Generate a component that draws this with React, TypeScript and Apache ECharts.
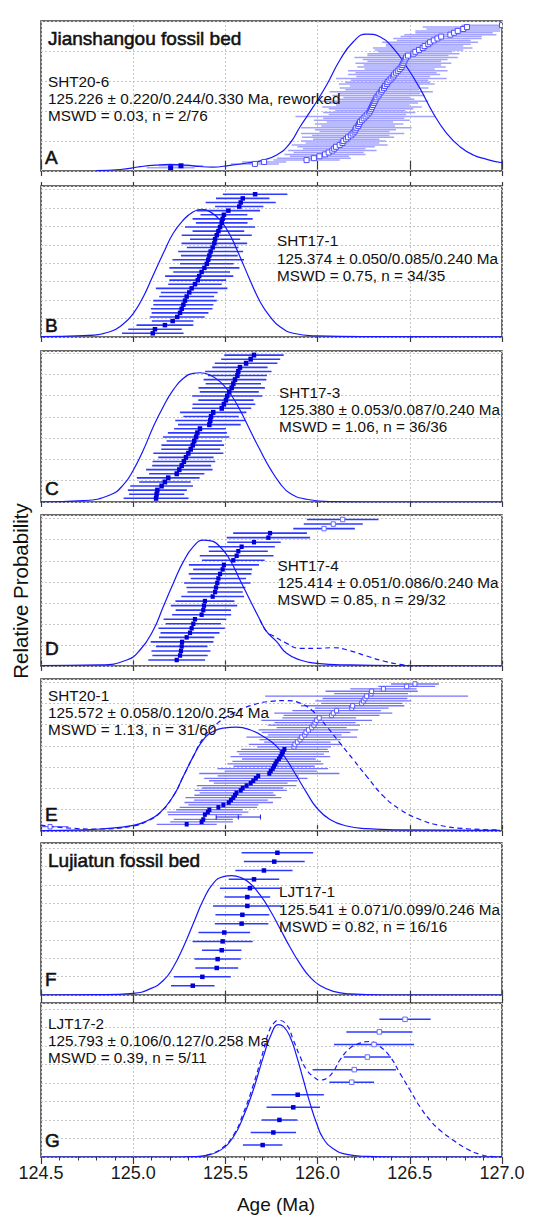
import { useEffect, useRef } from 'react';
import * as echarts from 'echarts';

const FONT = '"Liberation Sans", Arial, Helvetica, sans-serif';
const AGE_MIN = 124.5;
const AGE_MAX = 127.0;
const AGE_STEP = 0.5;
const AGE_TICK_LABELS = ['124.5', '125.0', '125.5', '126.0', '126.5', '127.0'];

// ---------------- Panel A : SHT20-6 ----------------
const ageA = [125.203, 125.259, 125.66, 125.71, 125.94, 125.98, 126.01, 126.04, 126.06, 126.08,
  126.09, 126.10, 126.12, 126.135, 126.14, 126.155, 126.165, 126.18, 126.19, 126.20,
  126.205, 126.21, 126.22, 126.225, 126.23, 126.24, 126.25, 126.26, 126.27, 126.28,
  126.285, 126.29, 126.295, 126.30, 126.305, 126.31, 126.315, 126.32, 126.33, 126.335,
  126.345, 126.35, 126.36, 126.365, 126.375, 126.38, 126.39, 126.40, 126.41, 126.415,
  126.425, 126.435, 126.445, 126.455, 126.46, 126.465, 126.47, 126.475, 126.48, 126.49,
  126.52, 126.53, 126.55, 126.57, 126.58, 126.60, 126.61, 126.63, 126.65, 126.67,
  126.72, 126.74, 126.76, 126.79, 126.81, 127.00];
const errA = [0.13, 0.12, 0.13, 0.12, 0.18, 0.2, 0.16, 0.22, 0.19, 0.24,
  0.17, 0.21, 0.26, 0.2, 0.23, 0.18, 0.25, 0.21, 0.28, 0.19,
  0.22, 0.3, 0.2, 0.24, 0.18, 0.26, 0.22, 0.38, 0.21, 0.25,
  0.19, 0.23, 0.27, 0.2, 0.24, 0.29, 0.21, 0.18, 0.25, 0.22,
  0.28, 0.2, 0.24, 0.19, 0.26, 0.23, 0.21, 0.3, 0.2, 0.25,
  0.22, 0.27, 0.19, 0.24, 0.21, 0.26, 0.2, 0.23, 0.28, 0.22,
  0.25, 0.2, 0.24, 0.27, 0.21, 0.23, 0.26, 0.2, 0.24, 0.22,
  0.25, 0.21, 0.23, 0.2, 0.24, 0.22];
const kindA = 'f'.repeat(2) + 'o'.repeat(74);
const curveA = [[124.8, 0.2], [124.93, 1.0], [125.04, 2.9], [125.12, 3.9], [125.2, 4.4], [125.29, 3.9],
  [125.36, 3.0], [125.43, 2.6], [125.525, 3.8], [125.633, 5.6], [125.69, 6.8], [125.778, 10.7],
  [125.85, 18.5], [125.905, 29.5], [125.977, 42.9], [126.049, 57.3], [126.121, 74], [126.194, 86.2],
  [126.266, 91.3], [126.338, 89.5], [126.411, 81.8], [126.483, 69.5], [126.555, 55.1], [126.627, 38.5],
  [126.7, 25.1], [126.772, 16.2], [126.844, 10.7], [126.917, 7.8], [127.0, 5.5]];
const textA = ['SHT20-6', '125.226 ± 0.220/0.244/0.330 Ma, reworked', 'MSWD = 0.03, n = 2/76'];

// ---------------- Panel B : SHT17-1 ----------------
const ageB = [125.106, 125.118, 125.172, 125.214, 125.239, 125.254, 125.263, 125.272, 125.281, 125.290,
  125.304, 125.317, 125.335, 125.350, 125.358, 125.371, 125.386, 125.399, 125.407, 125.413,
  125.420, 125.431, 125.440, 125.444, 125.453, 125.462, 125.471, 125.480, 125.485, 125.492,
  125.516, 125.575, 125.583, 125.594, 125.661];
const errB = [0.167, 0.145, 0.154, 0.113, 0.149, 0.154, 0.167, 0.163, 0.172, 0.149,
  0.154, 0.194, 0.145, 0.154, 0.185, 0.154, 0.19, 0.145, 0.194, 0.154,
  0.176, 0.14, 0.178, 0.136, 0.19, 0.14, 0.19, 0.14, 0.163, 0.127,
  0.172, 0.131, 0.19, 0.145, 0.175];
const kindB = 'f'.repeat(35);
const curveB = [[124.5, 0.2], [124.729, 0.9], [124.874, 3.5], [124.946, 8.6], [125.001, 15.7], [125.055, 26.7],
  [125.109, 41.1], [125.163, 55.4], [125.217, 68.7], [125.272, 77.5], [125.326, 83], [125.371, 84.6],
  [125.416, 83], [125.471, 77.5], [125.525, 67.5], [125.579, 53.2], [125.633, 37.8], [125.688, 23.4],
  [125.742, 13.5], [125.796, 6.8], [125.868, 2.5], [125.995, 0.7], [126.266, 0.2], [127.0, 0.1]];
const textB = ['SHT17-1', '125.374 ± 0.050/0.085/0.240 Ma', 'MSWD = 0.75, n = 34/35'];

// ---------------- Panel C : SHT17-3 ----------------
const ageC = [125.124, 125.127, 125.131, 125.154, 125.172, 125.190, 125.236, 125.250, 125.263, 125.275,
  125.286, 125.299, 125.312, 125.323, 125.331, 125.341, 125.348, 125.362, 125.413, 125.418,
  125.422, 125.434, 125.480, 125.492, 125.503, 125.510, 125.521, 125.534, 125.543, 125.552,
  125.565, 125.570, 125.579, 125.612, 125.637, 125.655];
const errC = [0.176, 0.15, 0.16, 0.17, 0.14, 0.17, 0.15, 0.18, 0.16, 0.17,
  0.15, 0.19, 0.16, 0.17, 0.15, 0.18, 0.16, 0.14, 0.17, 0.19,
  0.15, 0.18, 0.16, 0.17, 0.15, 0.19, 0.16, 0.18, 0.15, 0.17,
  0.16, 0.18, 0.15, 0.17, 0.16, 0.161];
const kindC = 'f'.repeat(36);
const curveC = [[124.5, 0], [124.729, 0.9], [124.874, 4.6], [124.946, 11.3], [125.001, 21.2], [125.055, 34.4],
  [125.109, 49.9], [125.163, 63.1], [125.217, 74.2], [125.272, 81.9], [125.326, 85.2], [125.362, 85.6],
  [125.416, 84.1], [125.471, 79.7], [125.525, 72], [125.579, 60.9], [125.633, 47.7], [125.688, 34.4],
  [125.742, 22.3], [125.796, 12.4], [125.85, 5.8], [125.94, 1.8], [126.085, 0.2], [126.266, 0], [127.0, 0]];
const textC = ['SHT17-3', '125.380 ± 0.053/0.087/0.240 Ma', 'MSWD = 1.06, n = 36/36'];

// ---------------- Panel D : SHT17-4 ----------------
const ageD = [125.236, 125.254, 125.259, 125.263, 125.265, 125.290, 125.308, 125.317, 125.326, 125.335,
  125.371, 125.380, 125.384, 125.389, 125.431, 125.444, 125.449, 125.456, 125.462, 125.471,
  125.485, 125.492, 125.543, 125.561, 125.570, 125.588, 125.655, 125.733, 125.742,
  126.035, 126.085, 126.136];
const errD = [0.154, 0.15, 0.16, 0.14, 0.17, 0.15, 0.16, 0.18, 0.15, 0.17,
  0.16, 0.15, 0.18, 0.16, 0.17, 0.15, 0.16, 0.18, 0.15, 0.17,
  0.16, 0.19, 0.17, 0.2, 0.16, 0.18, 0.145, 0.226, 0.2,
  0.167, 0.16, 0.194];
const kindD = 'f'.repeat(29) + 'o'.repeat(3);
const curveD = [[124.498, 0.2], [124.82, 0.7], [124.965, 4.0], [125.037, 10.6], [125.109, 23.8], [125.163, 39.3],
  [125.217, 54.7], [125.272, 69.1], [125.326, 79], [125.38, 83.4], [125.416, 83], [125.471, 79],
  [125.525, 70.2], [125.579, 57], [125.633, 43.7], [125.688, 30.5], [125.724, 22.7], [125.778, 16.1],
  [125.832, 8.4], [125.905, 4], [125.995, 1.8], [126.176, 0.7], [126.501, 0.2], [127.0, 0]];
const curveDAll = [[125.688, 30.5], [125.724, 22.7], [125.76, 20.0], [125.832, 15], [125.905, 11.7], [125.995, 11.7],
  [126.085, 12.1], [126.176, 10.1], [126.266, 6.6], [126.357, 3.3], [126.447, 1.1], [126.537, 0.2], [126.628, 0.2]];
const textD = ['SHT17-4', '125.414 ± 0.051/0.086/0.240 Ma', 'MSWD = 0.85, n = 29/32'];

// ---------------- Panel E : SHT20-1 ----------------
const ageE = [124.549,
  125.290, 125.371, 125.380, 125.570,
  125.389, 125.405, 125.413, 125.462, 125.489, 125.518, 125.530, 125.543, 125.552, 125.560,
  125.583, 125.594, 125.615, 125.637, 125.651, 125.665, 125.678, 125.738, 125.746, 125.757,
  125.764, 125.771, 125.778, 125.790, 125.798, 125.805, 125.812, 125.820,
  125.872, 125.877, 125.89, 125.905, 125.914, 125.93, 125.937, 125.950, 125.968, 125.98,
  125.986, 125.995, 126.009, 126.076, 126.085, 126.103, 126.185, 126.190, 126.239, 126.248,
  126.257, 126.266, 126.29, 126.293, 126.357, 126.483, 126.528];
const errE = [0.1,
  0.163, 0.17, 0.16, 0.12,
  0.2, 0.22, 0.18, 0.21, 0.19, 0.24, 0.2, 0.26, 0.22, 0.2,
  0.25, 0.22, 0.27, 0.2, 0.24, 0.28, 0.22, 0.38, 0.25, 0.3,
  0.22, 0.26, 0.24, 0.2, 0.27, 0.23, 0.25, 0.235,
  0.2, 0.25, 0.18, 0.22, 0.3, 0.2, 0.24, 0.27, 0.19, 0.25,
  0.22, 0.3, 0.2, 0.26, 0.32, 0.24, 0.2, 0.28, 0.22, 0.26,
  0.23, 0.55, 0.2, 0.25, 0.18, 0.154, 0.13];
const kindE = 'o' + 'fff' + 't' + 'f'.repeat(28) + 'o'.repeat(27);
const curveE = [[124.5, 0.3], [124.729, 0.7], [124.82, 1.3], [125.001, 3.7], [125.073, 6.6], [125.145, 12],
  [125.217, 22.9], [125.272, 36], [125.326, 49.1], [125.38, 60], [125.434, 65.5], [125.489, 67.7],
  [125.561, 68.3], [125.633, 66.6], [125.706, 62.2], [125.778, 55.7], [125.832, 46.9], [125.887, 36],
  [125.941, 25.1], [125.995, 15.3], [126.067, 7.6], [126.158, 3.3], [126.266, 1.5], [126.447, 0.7], [126.989, 0.4]];
const curveEAll = [[124.498, 3.9], [124.639, 2], [124.82, 1.3], [125.001, 3.3], [125.073, 6.3], [125.145, 12],
  [125.217, 22.9], [125.272, 36], [125.326, 49.1], [125.38, 61.1], [125.453, 70.5], [125.543, 77.5],
  [125.651, 83], [125.76, 85.4], [125.832, 85.8], [125.905, 84.1], [125.977, 78.6], [126.049, 68.8],
  [126.121, 57.9], [126.194, 46.9], [126.266, 36], [126.357, 22.9], [126.447, 14.2], [126.555, 7.6],
  [126.664, 3.7], [126.808, 1.5], [126.989, 0.7]];
const textE = ['SHT20-1', '125.572 ± 0.058/0.120/0.254 Ma', 'MSWD = 1.13, n = 31/60'];

// ---------------- Panel F : LJT17-1 ----------------
const ageF = [125.323, 125.375, 125.453, 125.458, 125.480, 125.485, 125.494, 125.588, 125.592, 125.619,
  125.619, 125.633, 125.655, 125.709, 125.765, 125.782];
const errF = [0.118, 0.154, 0.116, 0.126, 0.107, 0.163, 0.14, 0.145, 0.146, 0.186,
  0.124, 0.163, 0.137, 0.155, 0.165, 0.194];
const kindF = 'f'.repeat(16);
const curveF = [[124.5, 0], [124.82, 0.2], [125.001, 1.1], [125.091, 4], [125.163, 9.5], [125.217, 18.3],
  [125.272, 31.6], [125.326, 47], [125.38, 62.5], [125.434, 73.5], [125.489, 77.9], [125.534, 78.6],
  [125.579, 77.5], [125.633, 73.5], [125.688, 65.8], [125.742, 55.8], [125.796, 43.7], [125.85, 31.6],
  [125.905, 20.5], [125.959, 11.7], [126.013, 6.2], [126.085, 2.4], [126.176, 0.7], [126.357, 0], [127.0, 0]];
const textF = ['LJT17-1', '125.541 ± 0.071/0.099/0.246 Ma', 'MSWD = 0.82, n = 16/16'];

// ---------------- Panel G : LJT17-2 ----------------
const ageG = [125.702, 125.760, 125.793, 125.868, 125.892, 126.185, 126.199, 126.270, 126.306, 126.335, 126.474];
const errG = [0.107, 0.123, 0.097, 0.145, 0.142, 0.121, 0.226, 0.128, 0.217, 0.179, 0.139];
const kindG = 'f'.repeat(5) + 'o'.repeat(6);
const curveG = [[124.5, 0], [125.25, 0], [125.326, 0.2], [125.398, 1.1], [125.471, 4.3], [125.543, 13], [125.597, 26.1],
  [125.651, 43.5], [125.706, 65.2], [125.751, 80.4], [125.787, 85.9], [125.814, 84.8], [125.85, 78.3],
  [125.887, 65.2], [125.923, 50], [125.959, 34.8], [125.995, 21.7], [126.031, 12], [126.085, 5.4],
  [126.158, 1.7], [126.266, 0.4], [126.447, 0], [127.0, 0]];
const curveGAll = [[125.398, 1.3], [125.471, 4.8], [125.543, 14.1], [125.597, 28.3], [125.651, 46.7], [125.697, 65.2],
  [125.733, 80.4], [125.76, 86.5], [125.787, 88.7], [125.832, 85.9], [125.868, 76.1], [125.905, 65.2],
  [125.941, 56.5], [125.977, 52.2], [126.013, 50], [126.049, 51.1], [126.085, 55.4], [126.121, 63],
  [126.176, 70.7], [126.23, 73.9], [126.284, 75], [126.338, 71.7], [126.393, 65.2], [126.447, 54.3],
  [126.501, 43.5], [126.555, 32.6], [126.61, 23.9], [126.664, 17.4], [126.736, 10.9], [126.808, 5.4],
  [126.881, 1.7], [126.953, 0.2], [127.0, 0]];
const textG = ['LJT17-2', '125.793 ± 0.106/0.127/0.258 Ma', 'MSWD = 0.39, n = 5/11'];

const TITLE_JSG = 'Jianshangou fossil bed';
const TITLE_LJT = 'Lujiatun fossil bed';
const Y_TITLE = 'Relative Probability';
const X_TITLE = 'Age (Ma)';

const CURVE_COLOR = '#1616ff';
const MARK_COLOR = '#0000d6';

const PANELS = [
  { letter: 'A', top: 21, bottom: 171, topTick: 9, gridStep: 20, rank: [-0.74, 78.2], ages: ageA, errs: errA, kinds: kindA,
    curve: curveA, dashed: null, text: textA, title: TITLE_JSG, titleY: 38.5, statsX: 48, statsY: 81, letterY: 157,
    barColor: '#a3a3ff', barWidth: 1.5, mkW: 5, mkH: 5, openStroke: '#4c4cff' },
  { letter: 'B', top: 186, bottom: 337, topTick: 4, gridStep: 12.2, rank: [0.1, 37.03], ages: ageB, errs: errB, kinds: kindB,
    curve: curveB, dashed: null, text: textB, title: null, titleY: 0, statsX: 277, statsY: 240.7, letterY: 325.5,
    barColor: '#2e3bff', barWidth: 1.6, mkW: 4.5, mkH: 4.5, openStroke: '#4c4cff' },
  { letter: 'C', top: 351, bottom: 502, topTick: 0, gridStep: 14.1, rank: [0.1, 37], ages: ageC, errs: errC, kinds: kindC,
    curve: curveC, dashed: null, text: textC, title: null, titleY: 0, statsX: 279, statsY: 392.3, letterY: 488,
    barColor: '#2e3bff', barWidth: 1.6, mkW: 4.5, mkH: 5, openStroke: '#4c4cff' },
  { letter: 'D', top: 515, bottom: 666, topTick: 4, gridStep: 13.94, rank: [-0.32, 33], ages: ageD, errs: errD, kinds: kindD,
    curve: curveD, dashed: curveDAll, text: textD, title: null, titleY: 0, statsX: 277.5, statsY: 565, letterY: 648,
    barColor: '#2e3bff', barWidth: 1.6, mkW: 4.2, mkH: 4.5, openStroke: '#6a6aff' },
  { letter: 'E', top: 679, bottom: 831, topTick: 4, gridStep: 14.0, rank: [-0.78, 62.07], ages: ageE, errs: errE, kinds: kindE,
    curve: curveE, dashed: curveEAll, text: textE, title: null, titleY: 0, statsX: 48, statsY: 695, letterY: 814,
    barColor: '#7474ff', barWidth: 1.3, mkW: 4, mkH: 4.5, openStroke: '#5a5aff' },
  { letter: 'F', top: 843, bottom: 995, topTick: 4, gridStep: 12.07, rank: [-0.05, 17.1], ages: ageF, errs: errF, kinds: kindF,
    curve: curveF, dashed: null, text: textF, title: TITLE_LJT, titleY: 860, statsX: 279, statsY: 891.7, letterY: 979,
    barColor: '#2a3aff', barWidth: 1.5, mkW: 4.5, mkH: 4.5, openStroke: '#6a6aff' },
  { letter: 'G', top: 1003, bottom: 1157, topTick: 4, gridStep: 12.0, rank: [0.05, 12.3], ages: ageG, errs: errG, kinds: kindG,
    curve: curveG, dashed: curveGAll, text: textG, title: null, titleY: 0, statsX: 48, statsY: 1023.3, letterY: 1140,
    barColor: '#2a3aff', barWidth: 1.5, mkW: 4.5, mkH: 4.5, openStroke: '#6a6aff' },
];

const KIND_CODE: Record<string, number> = { f: 0, o: 1, t: 2 };
const FRAME = '#3a3a3a';
const GRID_LINE = '#c6c6c6';
const HEAVY = { stroke: '#111', lineWidth: 0.55 };

function txt(text: string, x: number, y: number, fontSize: number, extra: any = {}) {
  return {
    type: 'text', x, y, z: 100, silent: true,
    style: {
      text, fontSize, fontFamily: FONT, fill: '#111',
      textAlign: 'left', textVerticalAlign: 'middle', align: 'left', verticalAlign: 'middle',
      ...extra,
    },
  };
}

function buildOption() {
  const grid: any[] = [];
  const xAxis: any[] = [];
  const yAxis: any[] = [];
  const series: any[] = [];
  const graphic: any[] = [];
  const n = PANELS.length;

  PANELS.forEach((p, i) => {
    const last = i === n - 1;
    grid.push({ left: 41, width: 461, top: p.top, height: p.bottom - p.top, show: true,
      borderColor: FRAME, borderWidth: 1.5, backgroundColor: 'transparent' });
    xAxis.push({
      gridIndex: i, type: 'value', position: 'bottom', min: AGE_MIN, max: AGE_MAX, interval: AGE_STEP,
      axisLine: { show: false },
      axisTick: { show: true, inside: false, length: last ? 7 : 5, lineStyle: { color: FRAME, width: 1.2 } },
      minorTick: { show: last, splitNumber: 5, length: 3.5, lineStyle: { color: FRAME, width: 1 } },
      axisLabel: {
        show: last, fontSize: 18, fontFamily: FONT, color: '#1a1a1a', margin: 7,
        showMinLabel: true, showMaxLabel: true,
        formatter: (v: number) => AGE_TICK_LABELS[Math.round((v - AGE_MIN) / AGE_STEP)] ?? '',
      },
      splitLine: { show: true, lineStyle: { color: GRID_LINE, type: [2, 2], width: 1 } },
      minorSplitLine: { show: false },
    });
    xAxis.push({
      gridIndex: i, type: 'value', position: 'top', min: AGE_MIN, max: AGE_MAX, interval: AGE_STEP,
      axisLine: { show: false },
      axisTick: { show: p.topTick > 0, inside: false, length: p.topTick, lineStyle: { color: FRAME, width: 1.2 } },
      axisLabel: { show: false }, splitLine: { show: false },
    });
    yAxis.push({
      gridIndex: i, type: 'value', min: 0, max: 100, interval: p.gridStep, position: 'left',
      axisLine: { show: false }, axisTick: { show: false }, axisLabel: { show: false },
      splitLine: { show: true, lineStyle: { color: GRID_LINE, type: [2, 2], width: 1 } },
    });
    yAxis.push({
      gridIndex: i, type: 'value', min: p.rank[0], max: p.rank[1], position: 'right', show: false,
      splitLine: { show: false },
    });

    const data = p.ages.map((a, j) => [a, p.errs[j], j + 1, KIND_CODE[p.kinds[j]]]);

    series.push({
      type: 'custom', xAxisIndex: 2 * i, yAxisIndex: 2 * i + 1, clip: true, silent: true, z: 2,
      encode: { x: 0, y: 2 }, data,
      renderItem: (_params: any, api: any) => {
        const c = api.value(0), hw = api.value(1), r = api.value(2), k = api.value(3);
        const a = api.coord([c - hw, r]);
        const b = api.coord([c + hw, r]);
        if (k === 2) {
          const m = api.coord([c, r]);
          const st = { stroke: MARK_COLOR, lineWidth: 0.9 };
          return {
            type: 'group', children: [
              { type: 'line', shape: { x1: a[0], y1: a[1], x2: b[0], y2: b[1] }, style: st },
              { type: 'line', shape: { x1: a[0], y1: a[1] - 2.5, x2: a[0], y2: a[1] + 2.5 }, style: st },
              { type: 'line', shape: { x1: b[0], y1: b[1] - 2.5, x2: b[0], y2: b[1] + 2.5 }, style: st },
              { type: 'line', shape: { x1: m[0], y1: m[1] - 2.5, x2: m[0], y2: m[1] + 2.5 }, style: st },
            ],
          };
        }
        return {
          type: 'line', shape: { x1: a[0], y1: a[1], x2: b[0], y2: b[1] },
          style: { stroke: p.barColor, lineWidth: p.barWidth },
        };
      },
    });

    if (p.dashed) {
      series.push({
        type: 'line', xAxisIndex: 2 * i, yAxisIndex: 2 * i, data: p.dashed, smooth: 0.5,
        symbol: 'none', clip: true, silent: true, z: 3,
        lineStyle: { color: CURVE_COLOR, width: 1.2, type: [5, 3.5] },
      });
    }
    series.push({
      type: 'line', xAxisIndex: 2 * i, yAxisIndex: 2 * i, data: p.curve, smooth: 0.5,
      symbol: 'none', clip: true, silent: true, z: 3,
      lineStyle: { color: CURVE_COLOR, width: 1.2 },
    });

    series.push({
      type: 'custom', xAxisIndex: 2 * i, yAxisIndex: 2 * i + 1, clip: true, silent: true, z: 4,
      encode: { x: 0, y: 2 }, data,
      renderItem: (_params: any, api: any) => {
        const k = api.value(3);
        if (k === 2) return { type: 'group', children: [] };
        const pt = api.coord([api.value(0), api.value(2)]);
        const w = p.mkW, h = p.mkH;
        return {
          type: 'rect', shape: { x: pt[0] - w / 2, y: pt[1] - h / 2, width: w, height: h },
          style: k === 0 ? { fill: MARK_COLOR } : { fill: '#ffffff', stroke: p.openStroke, lineWidth: 1 },
        };
      },
    });

    if (p.title) graphic.push(txt(p.title, 48, p.titleY, 19, HEAVY));
    p.text.forEach((line, j) => graphic.push(txt(line, p.statsX, p.statsY + j * 17.3, 15.3)));
    graphic.push(txt(p.letter, 45, p.letterY, 19, HEAVY));
  });

  const yt: any = txt(Y_TITLE, 20, 591, 20.5, { textAlign: 'center', align: 'center' });
  yt.rotation = Math.PI / 2;
  graphic.push(yt);
  graphic.push(txt(X_TITLE, 276, 1204.5, 19, { textAlign: 'center', align: 'center' }));

  return { animation: false, backgroundColor: '#ffffff', grid, xAxis, yAxis, series, graphic };
}

export default function App() {
  const ref = useRef<HTMLDivElement>(null);
  useEffect(() => {
    if (!ref.current) return;
    const chart = echarts.init(ref.current, null, { renderer: 'svg', width: 536, height: 1215 });
    chart.setOption(buildOption() as any);
    return () => chart.dispose();
  }, []);
  return (
    <div
      ref={ref}
      style={{ position: 'fixed', left: 0, top: 0, width: 536, height: 1215, background: '#fff' }}
    />
  );
}
